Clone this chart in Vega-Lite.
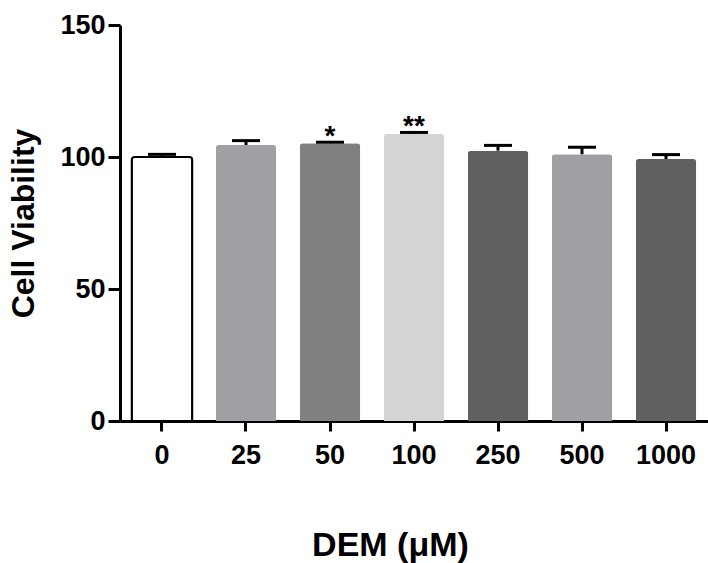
{
  "$schema": "https://vega.github.io/schema/vega-lite/v6.json",
  "width": 588,
  "height": 396,
  "autosize": {"type": "none"},
  "padding": {"left": 120, "top": 25, "right": 0, "bottom": 142},
  "background": "white",
  "config": {
    "view": {"stroke": null},
    "font": "Liberation Sans",
    "axis": {
      "domainColor": "black",
      "domainWidth": 3,
      "tickColor": "black",
      "tickWidth": 3,
      "grid": false,
      "labelColor": "black",
      "labelFont": "Liberation Sans",
      "labelFontWeight": "bold",
      "labelFontSize": 27,
      "titleColor": "black",
      "titleFont": "Liberation Sans",
      "titleFontWeight": "bold",
      "titleFontSize": 32
    }
  },
  "data": {
    "values": [
      {"dose": "0", "mean": 100.0, "upper": 101.0, "sig": ""},
      {"dose": "25", "mean": 104.5, "upper": 106.2, "sig": ""},
      {"dose": "50", "mean": 105.2, "upper": 105.6, "sig": "*"},
      {"dose": "100", "mean": 108.7, "upper": 109.3, "sig": "**"},
      {"dose": "250", "mean": 102.4, "upper": 104.4, "sig": ""},
      {"dose": "500", "mean": 101.0, "upper": 103.7, "sig": ""},
      {"dose": "1000", "mean": 99.2, "upper": 100.9, "sig": ""}
    ]
  },
  "encoding": {
    "x": {
      "field": "dose",
      "type": "nominal",
      "sort": null,
      "scale": {"paddingInner": 0.28, "paddingOuter": 0.14},
      "axis": {
        "title": "DEM (μM)",
        "titleFontSize": 34,
        "titleX": 270,
        "labelAngle": 0,
        "tickSize": 10,
        "labelPadding": 11,
        "titlePadding": 60
      }
    }
  },
  "layer": [
    {
      "mark": {"type": "rule", "color": "black", "strokeWidth": 3},
      "encoding": {
        "y": {"field": "mean", "type": "quantitative"},
        "y2": {"field": "upper"}
      }
    },
    {
      "mark": {"type": "bar", "cornerRadiusTopLeft": 3, "cornerRadiusTopRight": 3, "strokeWidth": 2},
      "encoding": {
        "y": {
          "field": "mean",
          "type": "quantitative",
          "scale": {"domain": [0, 150], "nice": false},
          "axis": {
            "title": "Cell Viability",
            "values": [0, 50, 100, 150],
            "tickSize": 12,
            "labelPadding": 3,
            "titlePadding": 19
          }
        },
        "color": {
          "field": "dose",
          "type": "nominal",
          "scale": {
            "domain": ["0", "25", "50", "100", "250", "500", "1000"],
            "range": ["#ffffff", "#a0a0a4", "#808080", "#d4d4d4", "#606060", "#a0a0a4", "#606060"]
          },
          "legend": null
        },
        "stroke": {
          "condition": {"test": "datum.dose === '0'", "value": "black"},
          "value": null
        }
      }
    },
    {
      "mark": {"type": "tick", "color": "black", "size": 28, "thickness": 3, "opacity": 1},
      "encoding": {
        "y": {"field": "upper", "type": "quantitative"}
      }
    },
    {
      "mark": {"type": "text", "fontSize": 28, "fontWeight": "bold", "font": "Liberation Sans", "color": "black", "baseline": "alphabetic", "dy": 3},
      "encoding": {
        "y": {"field": "upper", "type": "quantitative"},
        "text": {"field": "sig"}
      }
    }
  ]
}
